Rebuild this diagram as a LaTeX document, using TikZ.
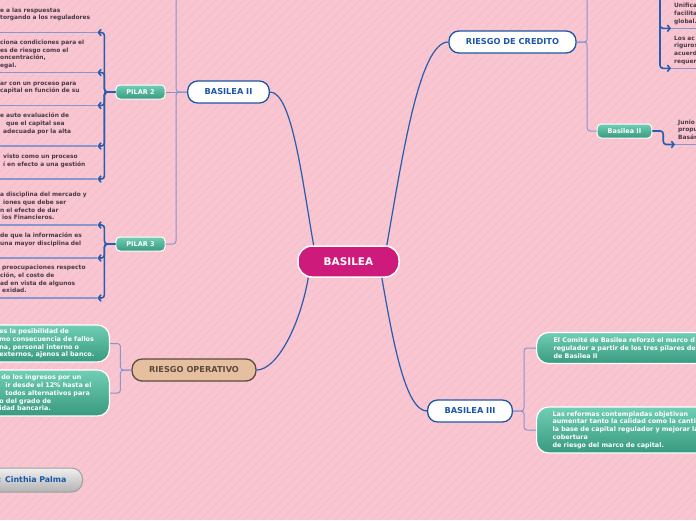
\documentclass[tikz,border=0pt]{standalone}
\usepackage{fontspec}
\setmainfont{DejaVu Sans}
\usetikzlibrary{arrows.meta}

\definecolor{bgpink}{RGB}{248,197,209}
\definecolor{stripe}{RGB}{242,189,202}
\definecolor{magent}{RGB}{206,26,122}
\definecolor{topicblue}{RGB}{28,86,166}
\definecolor{linkblue}{RGB}{40,92,172}
\definecolor{lightlink}{RGB}{138,148,206}
\definecolor{tealtop}{RGB}{112,206,180}
\definecolor{tealbot}{RGB}{56,154,128}
\definecolor{tanfill}{RGB}{230,191,160}
\definecolor{brownline}{RGB}{92,74,60}
\definecolor{leaftext}{RGB}{72,58,72}

\begin{document}
\begin{tikzpicture}[x=1pt,y=1pt,
  central/.style={draw=white, line width=1.5pt, fill=magent, rounded corners=14pt,
    minimum width=101pt, minimum height=31pt, text=white,
    font=\fontsize{10.5}{12}\selectfont\bfseries},
  topic/.style={draw=topicblue, line width=1.3pt, fill=white, rounded corners=10pt,
    minimum height=22pt, inner xsep=17pt, inner ysep=0pt, text=topicblue,
    font=\fontsize{8.2}{10}\selectfont\bfseries},
  pilar/.style={draw=white, line width=1pt, top color=tealtop, bottom color=tealbot,
    rounded corners=4pt, minimum height=14pt, inner xsep=10.5pt, inner ysep=0pt,
    text=white, font=\fontsize{6.5}{8}\selectfont\bfseries},
  leafL/.style={anchor=south west, text width=96pt, inner xsep=1pt, inner ysep=2.5pt,
    align=left, text=leaftext, font=\fontsize{5.9}{7.7}\selectfont\bfseries},
  leafR/.style={leafL, text width=40pt, inner xsep=3pt},
  tealleaf/.style={draw=white, line width=1.2pt, top color=tealtop, bottom color=tealbot,
    rounded corners=12pt, text width=98pt, inner xsep=12pt, inner ysep=3pt, align=left,
    text=white, font=\fontsize{6.4}{7.8}\selectfont\bfseries},
  mainlink/.style={draw=linkblue, line width=1.2pt},
  sublink/.style={draw=lightlink, line width=1pt, rounded corners=3pt},
  uline/.style={draw=lightlink, line width=1.1pt},
  brk/.style={draw=linkblue, line width=1.6pt, rounded corners=3pt,
    -{Straight Barb[length=2.6pt,width=6.5pt]}}]
\useasboundingbox (0,-520) rectangle (696,0);
\clip (0,-520) rectangle (696,0);
\fill[bgpink] (0,-520) rectangle (696,0);
\foreach \s in {-520,-511,...,696}
  \draw[stripe, line width=0.5pt] (\s,-520) -- ++(520,520);

% main topics
\node[central] (basilea) at (348.5,-261.5) {BASILEA};
\node[topic] (b2) at (228.5,-92) {BASILEA II};
\node[topic] (rc) at (512.5,-42) {RIESGO DE CREDITO};
\node[topic] (b3) at (470,-411) {BASILEA III};
\node[topic, fill=tanfill, draw=brownline, text=brownline] (ro) at (194,-370) {RIESGO OPERATIVO};

% sub topics
\node[pilar] (p2) at (140.5,-92) {PILAR 2};
\node[pilar] (p3) at (140.5,-244) {PILAR 3};
\node[pilar] (bs2) at (624.5,-131) {Basilea II};
\coordinate (p1) at (165,12);
\coordinate (rcA) at (597,12);
\coordinate (rcAe) at (650,12);

% pilar 2
\node[leafL] (a1) at (-1,-32.5) {e a las respuestas\\torgando a los reguladores\\\strut};
\node[leafL] (a2) at (-1,-72.5) {ciona condiciones para el\\es de riesgo como el\\oncentración,\\egal.\strut};
\node[leafL] (a3) at (-1,-105.5) {ar con un proceso para\\capital en función de su\\\strut};
\node[leafL] (a4) at (-1,-146) {e auto evaluación de\\\hspace*{6pt}que el capital sea\\\hspace*{3pt}adecuada por la alta\\\strut};
\node[leafL] (a5) at (-1,-179) {\hspace*{3pt}visto como un proceso\\\hspace*{3pt}í en efecto a una gestión\\\strut};
% pilar 3
\node[leafL] (b1) at (-1,-225) {a disciplina del mercado y\\\hspace*{3pt}iones que debe ser\\n el efecto de dar\\\hspace*{2pt}ios Financieros.\strut};
\node[leafL] (b2a) at (-1,-258) {de que la información es\\una mayor disciplina del\\\strut};
\node[leafL] (b3a) at (-1,-298) {\hspace*{2pt}preocupaciones respecto\\ción, el costo de\\ad en vista de algunos\\\hspace*{2pt}exidad.\strut};
% riesgo de credito
\node[leafR] (c1) at (671,-28.3) {Unifica\\facilita\\global.\strut};
\node[leafR] (c2) at (671,-68.3) {Los ac\\riguros\\acuerd\\requer\strut};
\node[leafR] (d1) at (675,-144.5) {Junio\\propu\\Basán\strut};

% teal leaves
\node[tealleaf, anchor=east, minimum height=37pt] (o1) at (110,-343.5)
  {es la posibilidad de\\mo consecuencia de fallos\\na, personal interno o\\externos, ajenos al banco.};
\node[tealleaf, anchor=east, minimum height=46pt] (o2) at (110,-393)
  {\hspace*{2pt}do los ingresos por un\\\hspace*{6pt}ir desde el 12\% hasta el\\\hspace*{6pt}todos alternativos para\\o del grado de\\idad bancaria.};
\node[tealleaf, anchor=west, text width=170pt, inner xsep=17pt, minimum height=31pt] (e1) at (536,-348)
  {El Comité de Basilea reforzó el marco d\\regulador a partir de los tres pilares de\\de Basilea II};
\node[tealleaf, anchor=west, text width=170pt, inner xsep=16pt, minimum height=46pt] (e2) at (536,-430)
  {Las reformas contempladas objetivan\\aumentar tanto la calidad como la canti\\la base de capital regulador y mejorar la\\cobertura\\de riesgo del marco de capital.};

% author
\node[anchor=east, draw=gray!75, line width=1pt, top color=gray!12, bottom color=gray!60,
  rounded corners=11pt, minimum height=24pt, text width=100pt, inner xsep=16pt, align=right,
  text=topicblue, font=\fontsize{7.9}{9}\selectfont\bfseries] (auth) at (83,-480) {: Cinthia Palma};

% curves from the centre
\draw[mainlink] (basilea.155) .. controls +(100:67) and +(0:22) .. (b2.east);
\draw[mainlink] (basilea.23) .. controls +(80:90) and +(180:29) .. (rc.west);
\draw[mainlink] (basilea.202) .. controls +(-100:50) and +(0:20) .. (ro.east);
\draw[mainlink] (basilea.334) .. controls +(-80:60) and +(180:22) .. (b3.west);

% thin links
\draw[sublink] (b2.west) -- (p2.east);
\draw[sublink] (b2.west) -- ++(-11,0) |- (p1);
\draw[sublink] (b2.west) -- ++(-11,0) |- (p3.east);
\draw[sublink] (rc.east) -- ++(10.5,0) |- (rcA);
\draw[sublink] (rc.east) -- ++(10.5,0) |- (bs2.west);
\foreach \l in {o1,o2}
  \draw[sublink] (ro.west) -- ++(-11,0) |- (\l.east);
\foreach \l in {e1,e2}
  \draw[sublink] (b3.east) -- ++(11,0) |- (\l.west);

% underlines and brackets
\foreach \l in {a1,a2,a3,a4,a5,b1,b2a,b3a,c1,c2,d1}
  \draw[uline] (\l.south west) -- (\l.south east);
\foreach \l in {a1,a2,a3,a4,a5}
  \draw[brk] (p2.west) -- ++(-11,0) |- (\l.south east);
\foreach \l in {b1,b2a,b3a}
  \draw[brk] (p3.west) -- ++(-11,0) |- (\l.south east);
\foreach \l in {c1,c2}
  \draw[brk] (rcAe) -- ++(10,0) |- (\l.south west);
\draw[brk] (bs2.east) -- ++(11,0) |- (d1.south west);
\end{tikzpicture}
\end{document}
